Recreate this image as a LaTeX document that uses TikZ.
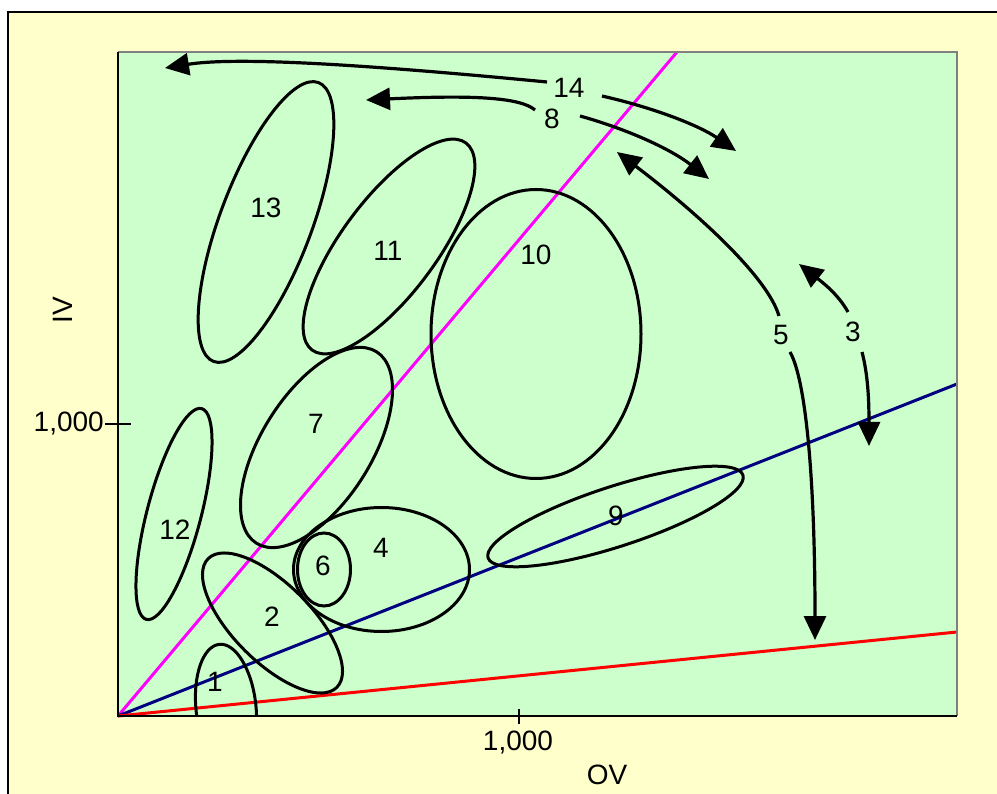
\documentclass[tikz,border=0pt]{standalone}
\usepackage{fontspec}
\setmainfont{Liberation Sans}
\usetikzlibrary{arrows.meta}
\definecolor{bgyellow}{HTML}{FFFFCC}
\definecolor{plotgreen}{HTML}{CCFFCC}
\definecolor{navyline}{HTML}{000080}
\definecolor{magline}{HTML}{FF00FF}
\definecolor{redline}{HTML}{FF0000}
\tikzset{
  region/.style={draw=black, line width=3pt},
  ray/.style={line width=3pt},
  flow/.style={draw=black, line width=3.2pt, -{Triangle[length=24pt,width=22pt]}},
  lbl/.style={inner sep=0pt, font=\fontsize{28}{33}\selectfont},
  tickline/.style={line width=1.4pt}
}
\begin{document}
\begin{tikzpicture}[x=1pt,y=-1pt]
\useasboundingbox (0,0) rectangle (997,794);
% outer frame
\fill[white] (0,0) rectangle (997,794);
\draw[fill=bgyellow, line width=1.5pt] (8,12) rectangle (1010,810);
% plot area
\fill[plotgreen] (118,52) rectangle (957,716);
% rays
\draw[ray, magline] (118,716) -- (677,52);
\draw[ray, navyline] (118,716) -- (957,384);
\draw[ray, redline] (118,716) -- (957,632);
% regions
\begin{scope}
\clip (118,52) rectangle (957,716);
\draw[region, rotate around={6:(226,708)}] (226,708) ellipse [x radius=30pt, y radius=64pt];
\end{scope}
\draw[region, rotate around={-45:(272.5,623)}] (272.5,623) ellipse [x radius=91pt, y radius=39pt];
\draw[region] (381.5,569.5) ellipse [x radius=88pt, y radius=62pt];
\draw[region] (324,569.5) ellipse [x radius=26.5pt, y radius=36.5pt];
\draw[region, rotate around={57.9:(316.5,447.5)}] (316.5,447.5) ellipse [x radius=113pt, y radius=55pt];
\draw[region] (536,334) ellipse [x radius=105pt, y radius=144.5pt];
\draw[region, rotate around={53.4:(389,246.5)}] (389,246.5) ellipse [x radius=129pt, y radius=47.5pt];
\draw[region, rotate around={69.4:(266,222)}] (266,222) ellipse [x radius=149pt, y radius=46pt];
\draw[region, rotate around={75.3:(174,514)}] (174,514) ellipse [x radius=109pt, y radius=27pt];
\draw[region, rotate around={18:(615.5,516.5)}] (615.5,516.5) ellipse [x radius=134pt, y radius=30pt];
% plot borders
\draw[gray, line width=1.3pt] (118,52) -- (957,52) -- (957,716);
\draw[black, line width=1.3pt] (118,52) -- (118,716) -- (957,716);
% ticks
\coordinate (yt1) at (105,424); \coordinate (yt2) at (131,424);
\coordinate (xt1) at (519,709); \coordinate (xt2) at (519,724);
\draw[tickline] (yt1) -- (yt2);
\draw[tickline] (xt1) -- (xt2);
% labels
\node[lbl] (l14) at (569,88) {14};
\node[lbl] (l8) at (552,119) {8};
\node[lbl] (l13) at (266,208) {13};
\node[lbl] (l11) at (388,251) {11};
\node[lbl] (l10) at (536,255) {10};
\node[lbl] (l5) at (781,335) {5};
\node[lbl] (l3) at (853,332) {3};
\node[lbl] (l7) at (316,424) {7};
\node[lbl] (l12) at (175,530) {12};
\node[lbl] (l9) at (616,516) {9};
\node[lbl] (l4) at (381,548) {4};
\node[lbl] (l6) at (323,566) {6};
\node[lbl] (l2) at (272,617) {2};
\node[lbl] (l1) at (215,682) {1};
\node[lbl, anchor=east] (ytick) at (104,424) {1,000};
\node[lbl] (xtick) at (518,743) {1,000};
\node[lbl] (ov) at (607,775) {OV};
\node[lbl, rotate=90] (iv) at (63,310) {IV};
% arrow end points
\coordinate (a14L) at (547,82);   \coordinate (t14L) at (165,68);
\coordinate (a14R) at (602,96);   \coordinate (t14R) at (736,151);
\coordinate (a8L) at (535,110);   \coordinate (t8L) at (366,100);
\coordinate (a8R) at (580,116);   \coordinate (t8R) at (709,179);
\coordinate (a5U) at (779,316);   \coordinate (t5U) at (617,152);
\coordinate (a5D) at (790,352);   \coordinate (t5D) at (815,640);
\coordinate (a3U) at (848,312);   \coordinate (t3U) at (799,264);
\coordinate (a3D) at (862,352);   \coordinate (t3D) at (869,446);
% arrows
\draw[flow] (a14L) .. controls (380,66) and (240,56) .. (t14L);
\draw[flow] (a14R) .. controls (655,108) and (700,126) .. (t14R);
\draw[flow] (a8L) .. controls (520,97) and (470,95) .. (t8L);
\draw[flow] (a8R) .. controls (630,130) and (672,150) .. (t8R);
\draw[flow] (a5U) .. controls (768,278) and (700,215) .. (t5U);
\draw[flow] (a5D) .. controls (806,380) and (815,480) .. (t5D);
\draw[flow] (a3U) .. controls (838,294) and (822,282) .. (t3U);
\draw[flow] (a3D) .. controls (868,375) and (869,400) .. (t3D);
\end{tikzpicture}
\end{document}
